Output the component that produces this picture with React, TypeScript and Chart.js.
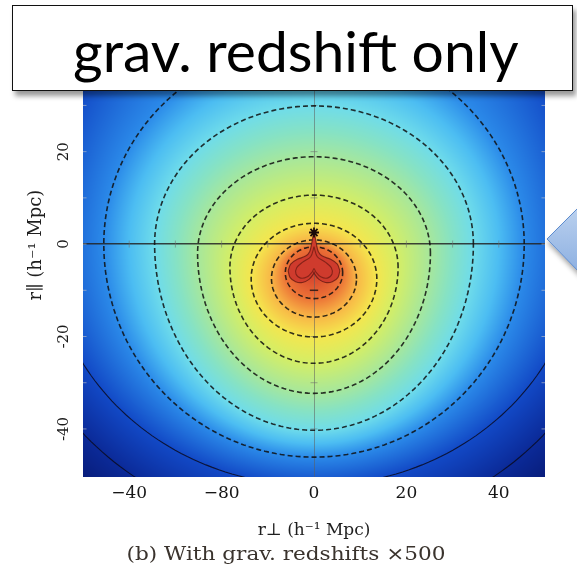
import React, { useEffect, useRef } from "react";
import { Chart, registerables } from "chart.js";

Chart.register(...registerables);

// ---------- texts ----------
const titleText = "grav. redshift only";
const captionText = "(b) With grav. redshifts ×500";
const xAxisTitle = "r⊥ (h⁻¹ Mpc)";
const yAxisTitle = "r∥ (h⁻¹ Mpc)";

// ---------- ticks ----------
const xTickValues = [-40, -20, 0, 20, 40];
const xTickLabels = ["−40", "−80", "0", "20", "40"];
const yTickValues = [20, 0, -20, -40];
const yTickLabels = ["20", "0", "-20", "-40"];

// small tick marks along the zero lines and the plot edges
const axisMarkX = [-40, -30, -20, -10, 10, 20, 30, 40];
const axisMarkY = [40, 30, 20, 10, -10, -20, -30, -40];
const edgeMarkY = [40, 30, 20, 10, 0, -10, -20, -30, -40];

// ---------- contours (inner -> outer) ----------
const contourCenterY = [-6.2, -7.5, -7.5, -5, -2, 0, 0, 0, 0];
const contourRx = [6.2, 9.2, 13.6, 18.2, 25.2, 34.5, 45.5, 57.5, 66.6];
const contourRyTop = [5.6, 8.4, 12.0, 15.6, 20.9, 29.9, 43.5, 70, 80];
const contourRyBottom = [5.6, 8.3, 12.6, 20.8, 30.3, 40.3, 46.1, 52.3, 62];
const contourLevel = [8, 7, 6, 5, 4, 3, 2, 1, 0];
const contourDashed = [true, true, true, true, true, true, true, false, false];
const centerLevel = 9.5;
const outerLevel = -1;

// colour at each level (jet-like map)
const colorStopLevels = [-1, 0, 1, 2, 2.5, 3, 3.5, 4, 5, 6, 7, 8, 9.5];
const colorStopHex = [
  "#07176e", "#0b2a98", "#1249c6", "#2b8ae9", "#4cbdf2", "#6fdcea",
  "#86e2c4", "#a6e79c", "#d4ee66", "#f4e64e", "#f8b646", "#ec7236", "#d23c2c",
];

// red core ("heart" with upward spike)
const heartTopX = [-5.6, -5.05, -3.6, -1.8, -0.94, -0.5, 0, 0.5, 0.94, 1.8, 3.6, 5.05, 5.6];
const heartTopY = [-5.77, -4.33, -3.3, -2.6, -1.66, 0.14, 2.67, 0.14, -1.66, -2.6, -3.3, -4.33, -5.77];
const heartBottomX = [-5.6, -5.2, -3.97, -2.5, -1.08, -0.14, 0, 0.14, 1.08, 2.5, 3.97, 5.2, 5.6];
const heartBottomY = [-5.77, -7.2, -8.15, -8.3, -7.65, -6.5, -6.0, -6.5, -7.65, -8.3, -8.15, -7.2, -5.77];
const innerHeartX = [0, -0.72, -2.53, -3.75, -3.9, -2.89, -1.44, -0.36, 0, 0.36, 1.44, 2.89, 3.9, 3.75, 2.53, 0.72, 0];
const innerHeartY = [-0.58, -2.74, -3.97, -5.12, -6.49, -7.36, -7.07, -5.99, -5.27, -5.99, -7.07, -7.36, -6.49, -5.12, -3.97, -2.74, -0.58];
const coreDashX = [-0.9, 0.9];
const coreDashY = [-10, -10];
const starX = [0];
const starY = [2.5];

// ---------- helpers ----------
const hexToRgb = (h: string) => [
  parseInt(h.slice(1, 3), 16),
  parseInt(h.slice(3, 5), 16),
  parseInt(h.slice(5, 7), 16),
];
const stopRgb = colorStopHex.map(hexToRgb);

function colorAt(level: number) {
  if (level <= colorStopLevels[0]) return stopRgb[0];
  const n = colorStopLevels.length;
  if (level >= colorStopLevels[n - 1]) return stopRgb[n - 1];
  for (let i = 1; i < n; i++) {
    if (level <= colorStopLevels[i]) {
      const t = (level - colorStopLevels[i - 1]) / (colorStopLevels[i] - colorStopLevels[i - 1]);
      const a = stopRgb[i - 1], b = stopRgb[i];
      return [a[0] + (b[0] - a[0]) * t, a[1] + (b[1] - a[1]) * t, a[2] + (b[2] - a[2]) * t];
    }
  }
  return stopRgb[n - 1];
}

function levelAt(x: number, y: number) {
  const n = contourRx.length;
  let prevRho = 0, prevR = 0;
  for (let k = 0; k < n; k++) {
    const dy = y - contourCenterY[k];
    const ry = dy > 0 ? contourRyTop[k] : contourRyBottom[k];
    const rho = Math.sqrt((x / contourRx[k]) ** 2 + (dy / ry) ** 2);
    const r = Math.sqrt(x * x + dy * dy);
    if (rho <= 1) {
      if (k === 0) return contourLevel[0] + (centerLevel - contourLevel[0]) * (1 - rho);
      const dOut = rho > 1e-6 ? r * (1 / rho - 1) : 1e6;
      const dIn = prevR * (1 - 1 / prevRho);
      const f = dOut / (dOut + dIn);
      return contourLevel[k] + (contourLevel[k - 1] - contourLevel[k]) * f;
    }
    prevRho = rho;
    prevR = r;
  }
  const beyond = prevR * (1 - 1 / prevRho);
  return Math.max(outerLevel, contourLevel[n - 1] - beyond / 10);
}

function contourPoints(k: number) {
  const pts: { x: number; y: number }[] = [];
  const steps = 240;
  for (let s = 0; s <= steps; s++) {
    const t = (s / steps) * Math.PI * 2;
    const sn = Math.sin(t);
    pts.push({
      x: contourRx[k] * Math.cos(t),
      y: contourCenterY[k] + (sn > 0 ? contourRyTop[k] : contourRyBottom[k]) * sn,
    });
  }
  return pts;
}

const zip = (xs: number[], ys: number[]) => xs.map((x, i) => ({ x, y: ys[i] }));

// ---------- plugins ----------
const fieldPlugin = {
  id: "field",
  beforeDraw(chart: any) {
    const { ctx, chartArea: a, scales } = chart;
    const xs = scales.x, ys = scales.y;
    const left = Math.round(a.left), top = Math.round(a.top);
    const w = Math.round(a.right) - left, h = Math.round(a.bottom) - top;
    const img = ctx.createImageData(w, h);
    const d = img.data;
    for (let j = 0; j < h; j++) {
      const y = ys.getValueForPixel(top + j + 0.5);
      for (let i = 0; i < w; i++) {
        const x = xs.getValueForPixel(left + i + 0.5);
        const c = colorAt(levelAt(x, y));
        const p = (j * w + i) * 4;
        d[p] = c[0]; d[p + 1] = c[1]; d[p + 2] = c[2]; d[p + 3] = 255;
      }
    }
    ctx.putImageData(img, left, top);
  },
};

const textPlugin = {
  id: "texts",
  afterDraw(chart: any) {
    const { ctx, scales } = chart;
    ctx.save();
    ctx.fillStyle = "#1a1a1a";
    ctx.textAlign = "center";
    ctx.textBaseline = "middle";
    ctx.font = '15px "DejaVu Serif"';
    yTickValues.forEach((v, i) => {
      const py = scales.y.getPixelForValue(v);
      ctx.save();
      ctx.translate(64, py);
      ctx.rotate(-Math.PI / 2);
      ctx.fillText(yTickLabels[i], 0, 0);
      ctx.restore();
    });
    ctx.save();
    ctx.translate(286, 555);
    ctx.scale(1.2, 1);
    ctx.font = '18px "DejaVu Serif"';
    ctx.fillStyle = "#3a332d";
    ctx.fillText(captionText, 0, 0);
    ctx.restore();
    ctx.restore();
  },
};

export default function App() {
  const ref = useRef<HTMLCanvasElement>(null);

  useEffect(() => {
    const canvas = ref.current;
    if (!canvas) return;

    const markStyle = {
      showLine: false,
      pointStyle: "line",
      pointRadius: 3.5,
      borderWidth: 1,
      clip: 0,
    };

    const datasets: any[] = [
      {
        label: "star",
        data: zip(starX, starY),
        showLine: false,
        pointStyle: "star",
        pointRadius: 5,
        borderColor: "#1a0a08",
        borderWidth: 1.8,
        clip: 0,
      },
      {
        label: "inner core",
        data: zip(innerHeartX, innerHeartY),
        showLine: true,
        pointRadius: 0,
        borderColor: "rgba(110,25,18,0.75)",
        borderWidth: 1.1,
        tension: 0.3,
        fill: false,
        clip: 0,
      },
      {
        label: "core dash",
        data: zip(coreDashX, coreDashY),
        showLine: true,
        pointRadius: 0,
        borderColor: "rgba(40,15,10,0.8)",
        borderWidth: 1.5,
        fill: false,
        clip: 0,
      },
      {
        label: "core bottom",
        data: zip(heartBottomX, heartBottomY),
        showLine: true,
        pointRadius: 0,
        borderColor: "rgba(95,22,15,0.75)",
        borderWidth: 1.1,
        tension: 0.3,
        fill: false,
        clip: 0,
      },
      {
        label: "core top",
        data: zip(heartTopX, heartTopY),
        showLine: true,
        pointRadius: 0,
        borderColor: "rgba(95,22,15,0.75)",
        borderWidth: 1.1,
        tension: 0.3,
        fill: "-1",
        backgroundColor: "#cf3b2d",
        clip: 0,
      },
    ];

    contourRx.forEach((_, k) => {
      datasets.push({
        label: "contour " + k,
        data: contourPoints(k),
        showLine: true,
        pointRadius: 0,
        borderColor: contourDashed[k] ? "rgba(15,15,15,0.85)" : "rgba(10,10,30,0.85)",
        borderWidth: contourDashed[k] ? 1.6 : 1.1,
        borderDash: contourDashed[k] ? [5, 3] : [],
        fill: false,
        clip: 0,
      });
    });

    datasets.push(
      { ...markStyle, label: "marks x", data: axisMarkX.map((v) => ({ x: v, y: 0 })), rotation: 90, borderColor: "rgba(110,110,110,0.55)" },
      { ...markStyle, label: "marks y", data: axisMarkY.map((v) => ({ x: 0, y: v })), rotation: 0, borderColor: "rgba(110,110,110,0.55)" },
      { ...markStyle, label: "edge left", data: edgeMarkY.map((v) => ({ x: -50, y: v })), rotation: 0, borderColor: "rgba(200,200,200,0.6)" },
      { ...markStyle, label: "edge right", data: edgeMarkY.map((v) => ({ x: 50, y: v })), rotation: 0, borderColor: "rgba(200,200,200,0.6)" }
    );

    const chart = new Chart(canvas, {
      type: "scatter",
      data: { datasets },
      options: {
        animation: false,
        responsive: false,
        devicePixelRatio: 1,
        events: [],
        layout: { padding: { left: 0, right: 32, top: 13, bottom: 0 } },
        plugins: {
          legend: { display: false },
          tooltip: { enabled: false },
          title: { display: false },
        },
        scales: {
          x: {
            type: "linear",
            min: -50,
            max: 50,
            afterFit: (s: any) => { s.height = 97; },
            afterBuildTicks: (s: any) => { s.ticks = xTickValues.map((v) => ({ value: v })); },
            ticks: {
              autoSkip: false,
              maxRotation: 0,
              padding: 6,
              color: "#161616",
              font: { family: '"DejaVu Serif"', size: 17 },
              callback: (v: any) => {
                const i = xTickValues.indexOf(Number(v));
                return i >= 0 ? xTickLabels[i] : "";
              },
            },
            grid: {
              drawTicks: false,
              lineWidth: 1,
              color: (c: any) => (c.tick && c.tick.value === 0 ? "rgba(95,95,95,0.55)" : "rgba(0,0,0,0)"),
            },
            border: { display: false },
            title: {
              display: true,
              text: xAxisTitle,
              color: "#1e1e1e",
              font: { family: '"DejaVu Serif"', size: 17 },
              padding: { top: 0, bottom: 33 },
            },
          },
          y: {
            type: "linear",
            min: -50.4,
            max: 50,
            afterFit: (s: any) => { s.width = 83; },
            afterBuildTicks: (s: any) => { s.ticks = yTickValues.map((v) => ({ value: v })); },
            ticks: { display: false },
            grid: {
              drawTicks: false,
              lineWidth: 1.5,
              color: (c: any) => (c.tick && c.tick.value === 0 ? "rgba(35,35,35,0.85)" : "rgba(0,0,0,0)"),
            },
            border: { display: false },
            title: {
              display: true,
              text: yAxisTitle,
              color: "#1e1e1e",
              font: { family: '"DejaVu Serif"', size: 18 },
              padding: { top: 26, bottom: 0 },
            },
          },
        },
      } as any,
      plugins: [fieldPlugin, textPlugin],
    });

    return () => chart.destroy();
  }, []);

  return (
    <div style={{ position: "absolute", left: 0, top: 0, width: 577, height: 574, overflow: "hidden", background: "#fff" }}>
      <canvas ref={ref} width={577} height={574} style={{ position: "absolute", left: 0, top: 0, width: 577, height: 574 }} />
      <div
        style={{
          position: "absolute",
          left: 12,
          top: 5,
          width: 561,
          height: 86,
          boxSizing: "border-box",
          border: "1.5px solid #111",
          background: "#fff",
          boxShadow: "3px 5px 5px rgba(0,0,0,0.4)",
        }}
      />
      <span
        style={{
          position: "absolute",
          left: 73,
          top: 16,
          fontFamily: "Lato, 'Open Sans', sans-serif",
          fontSize: 57,
          lineHeight: 1.2,
          color: "#000",
          whiteSpace: "nowrap",
        }}
      >
        {titleText}
      </span>
      <svg width={40} height={110} style={{ position: "absolute", left: 540, top: 192, overflow: "visible" }}>
        <defs>
          <linearGradient id="arrowFill" x1="0" y1="0" x2="0" y2="1">
            <stop offset="0" stopColor="#bcd2ef" />
            <stop offset="1" stopColor="#8cafe1" />
          </linearGradient>
          <filter id="arrowShadow" x="-50%" y="-50%" width="200%" height="200%">
            <feDropShadow dx="1" dy="4" stdDeviation="2.5" floodColor="#000" floodOpacity="0.35" />
          </filter>
        </defs>
        <polygon points="7,47 40,14 40,81" fill="url(#arrowFill)" stroke="#5d8ccf" strokeWidth={1} filter="url(#arrowShadow)" />
      </svg>
    </div>
  );
}
